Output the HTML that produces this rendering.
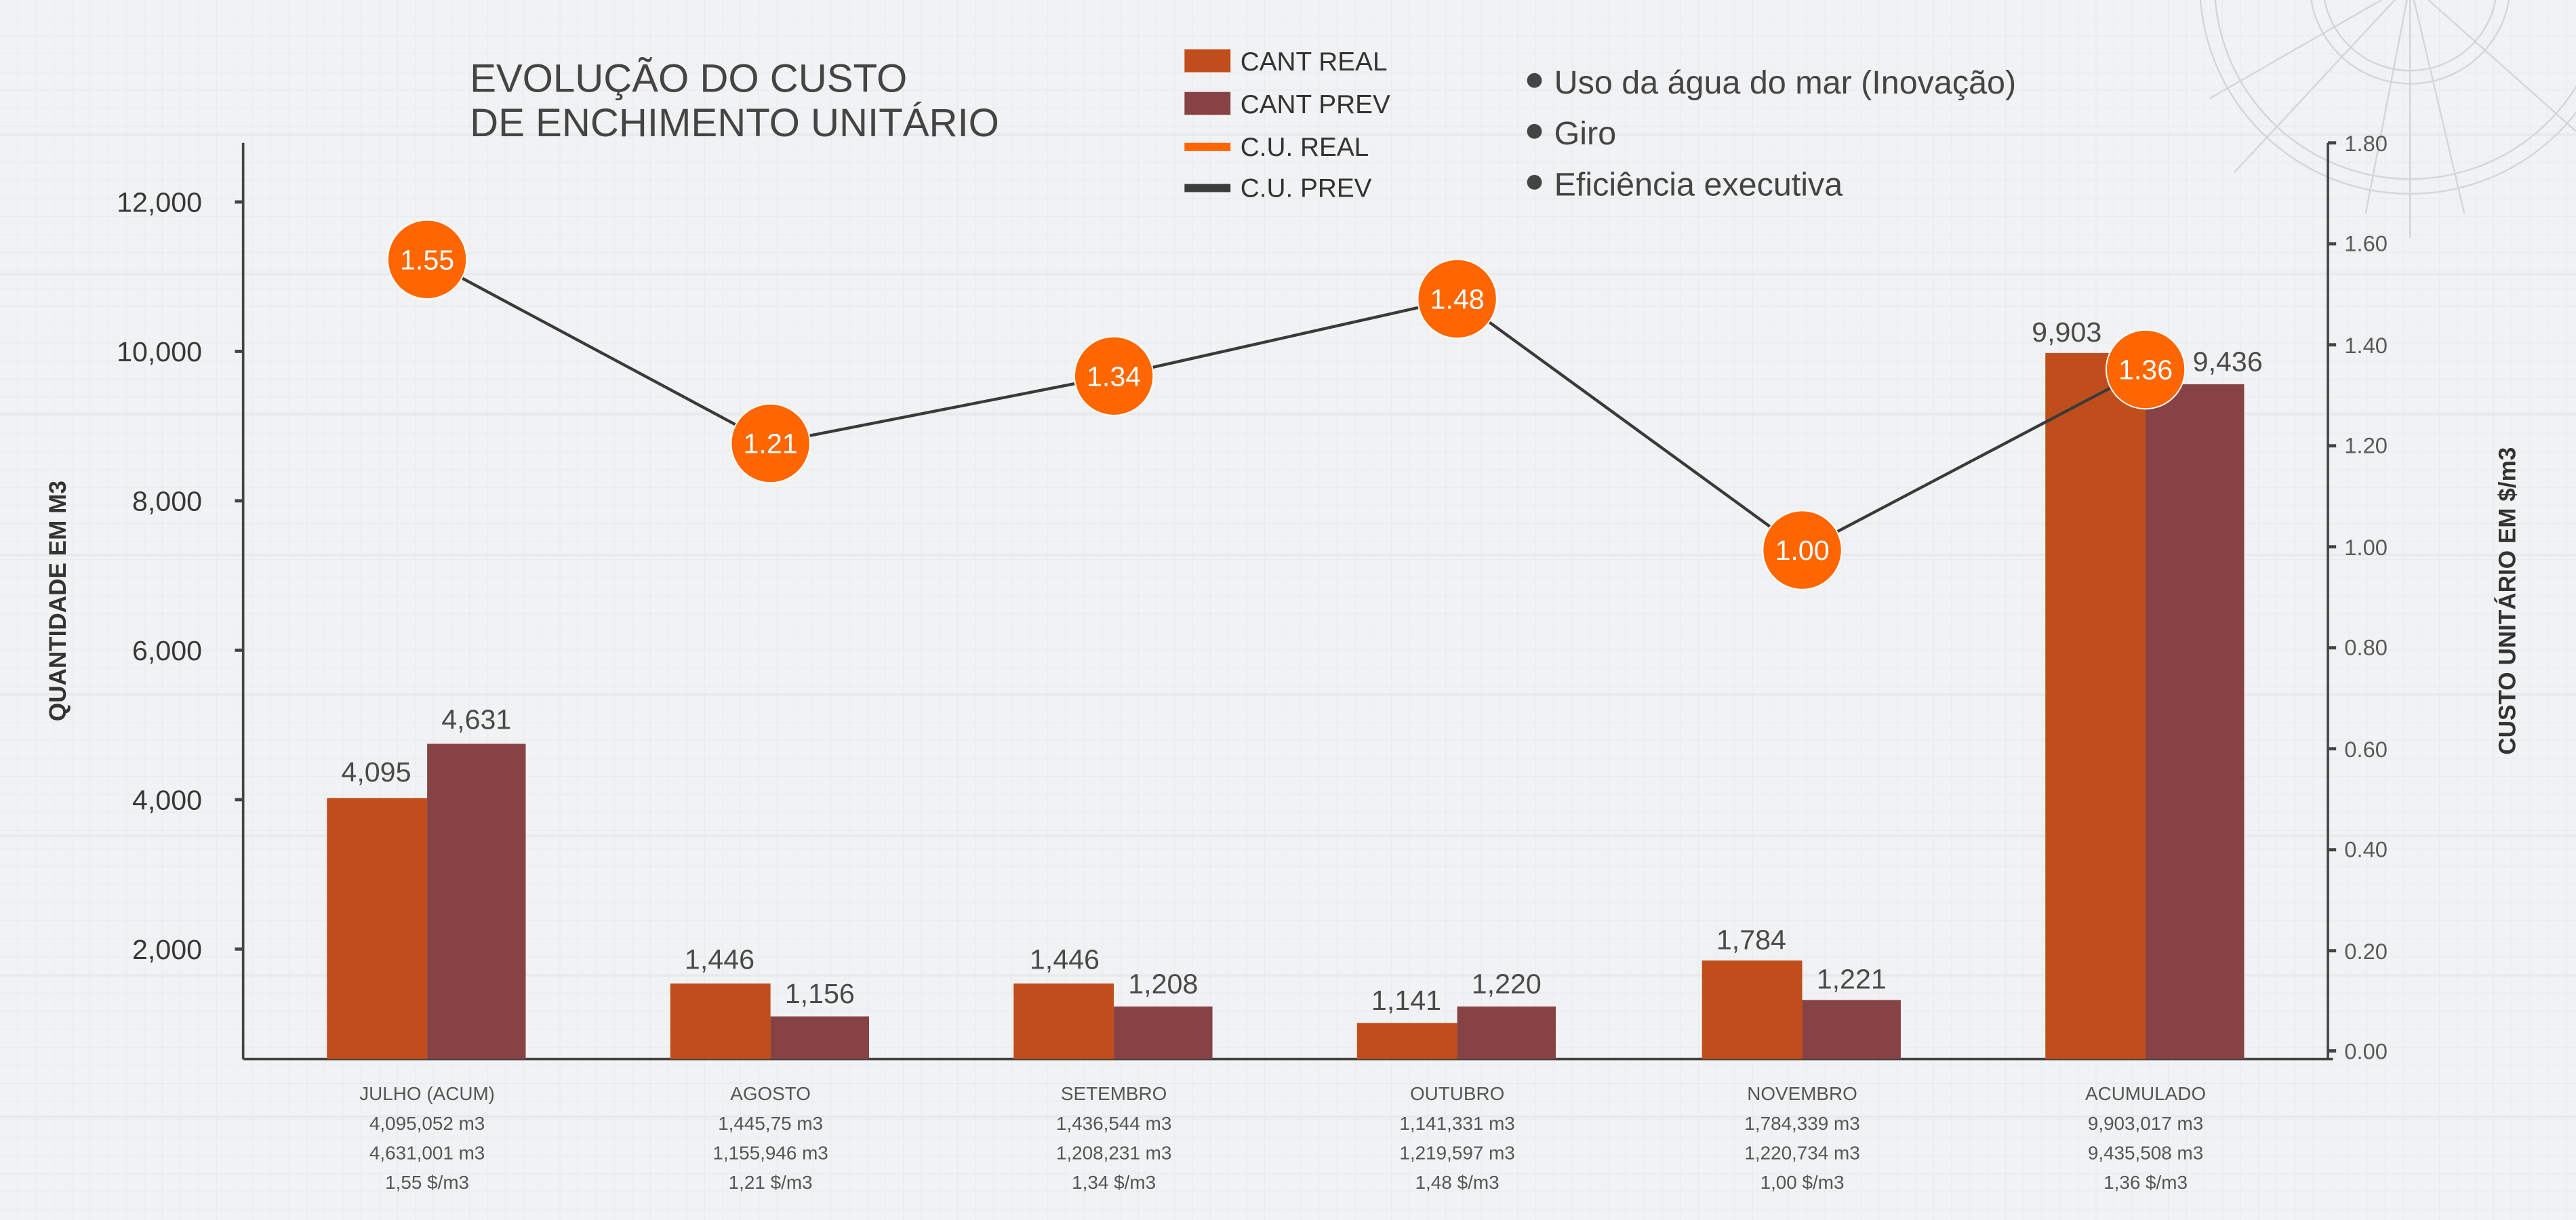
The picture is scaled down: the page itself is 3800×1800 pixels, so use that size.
<!DOCTYPE html>
<html><head><meta charset="utf-8"><style>
html,body{margin:0;padding:0;background:#f1f2f3;}
svg{display:block;}
text{font-family:"Liberation Sans",sans-serif;}
</style></head><body>
<svg width="3800" height="1800" viewBox="0 0 1568 743" preserveAspectRatio="none" xmlns="http://www.w3.org/2000/svg">
<defs>
<pattern id="g" width="11" height="11" patternUnits="userSpaceOnUse">
<path d="M11 0V11M0 11H11" stroke="#e6e8e9" stroke-width="0.6" fill="none"/>
</pattern>
</defs>
<rect width="1568" height="743" fill="#f1f2f3"/>
<rect width="1568" height="743" fill="url(#g)"/>
<g stroke="#e7e9ea" stroke-width="1.5">
<line x1="0" y1="82" x2="1568" y2="82"/><line x1="0" y1="167" x2="1568" y2="167"/>
<line x1="0" y1="252" x2="1568" y2="252"/><line x1="0" y1="338" x2="1568" y2="338"/>
<line x1="0" y1="423" x2="1568" y2="423"/><line x1="0" y1="509" x2="1568" y2="509"/>
<line x1="0" y1="594" x2="1568" y2="594"/><line x1="0" y1="680" x2="1568" y2="680"/>
</g>
<!-- decoration -->
<g stroke="#d3d6d9" stroke-width="1" fill="none">
<circle cx="1467" cy="-10" r="53"/><circle cx="1467" cy="-10" r="61"/>
<circle cx="1467" cy="-10" r="119"/><circle cx="1467" cy="-10" r="128"/>
<line x1="1467" y1="-10" x2="1345" y2="60"/><line x1="1467" y1="-10" x2="1360" y2="105"/>
<line x1="1467" y1="-10" x2="1440" y2="130"/><line x1="1467" y1="-10" x2="1500" y2="130"/>
<line x1="1467" y1="-10" x2="1568" y2="80"/><line x1="1467" y1="-10" x2="1467" y2="145"/>
</g>
<!-- title -->
<text x="286" y="56" font-size="24" fill="#444">EVOLUÇÃO DO CUSTO</text>
<text x="286" y="83" font-size="24" fill="#444">DE ENCHIMENTO UNITÁRIO</text>
<!-- legend -->
<rect x="721" y="30" width="28" height="14" fill="#c04e1c"/>
<rect x="721" y="56" width="28" height="14" fill="#864245"/>
<rect x="721" y="87" width="28" height="5" fill="#ff6600"/>
<rect x="721" y="112" width="28" height="5" fill="#3c3c3c"/>
<g font-size="16" fill="#333">
<text x="755" y="43">CANT REAL</text><text x="755" y="69">CANT PREV</text>
<text x="755" y="95">C.U. REAL</text><text x="755" y="120">C.U. PREV</text>
</g>
<g fill="#444"><circle cx="934" cy="49" r="4.5"/><circle cx="934" cy="80" r="4.5"/><circle cx="934" cy="111" r="4.5"/></g>
<g font-size="20" fill="#444">
<text x="946" y="57">Uso da água do mar (Inovação)</text>
<text x="946" y="88">Giro</text>
<text x="946" y="119">Eficiência executiva</text>
</g>
<!-- axes -->
<g stroke="#444" stroke-width="1.5" fill="none">
<line x1="148" y1="87" x2="148" y2="645"/>
<line x1="148" y1="645" x2="1420" y2="645"/>
<line x1="1417" y1="87" x2="1417" y2="645"/>
</g>
<g stroke="#444" stroke-width="2">
<line x1="143" y1="123" x2="148" y2="123"/><line x1="143" y1="214" x2="148" y2="214"/>
<line x1="143" y1="305" x2="148" y2="305"/><line x1="143" y1="396" x2="148" y2="396"/>
<line x1="143" y1="487" x2="148" y2="487"/><line x1="143" y1="578" x2="148" y2="578"/>
<line x1="1417" y1="87" x2="1422" y2="87"/><line x1="1417" y1="148.5" x2="1422" y2="148.5"/>
<line x1="1417" y1="210" x2="1422" y2="210"/><line x1="1417" y1="271.5" x2="1422" y2="271.5"/>
<line x1="1417" y1="333" x2="1422" y2="333"/><line x1="1417" y1="394.5" x2="1422" y2="394.5"/>
<line x1="1417" y1="456" x2="1422" y2="456"/><line x1="1417" y1="517.5" x2="1422" y2="517.5"/>
<line x1="1417" y1="579" x2="1422" y2="579"/><line x1="1417" y1="640" x2="1422" y2="640"/>
</g>
<g font-size="17" fill="#383838" text-anchor="end">
<text x="123" y="129">12,000</text><text x="123" y="220">10,000</text>
<text x="123" y="311">8,000</text><text x="123" y="402">6,000</text>
<text x="123" y="493">4,000</text><text x="123" y="584">2,000</text>
</g>
<g font-size="13.5" fill="#5a5a5a">
<text x="1427" y="92">1.80</text><text x="1427" y="153">1.60</text>
<text x="1427" y="215">1.40</text><text x="1427" y="276">1.20</text>
<text x="1427" y="338">1.00</text><text x="1427" y="399">0.80</text>
<text x="1427" y="461">0.60</text><text x="1427" y="522">0.40</text>
<text x="1427" y="584">0.20</text><text x="1427" y="645">0.00</text>
</g>
<text transform="translate(40,366) rotate(-90)" font-size="14.5" font-weight="bold" fill="#333" text-anchor="middle">QUANTIDADE EM M3</text>
<text transform="translate(1531,366) rotate(-90)" font-size="14.5" font-weight="bold" fill="#333" text-anchor="middle">CUSTO UNITÁRIO EM $/m3</text>
<!-- bars -->
<g fill="#c04e1c">
<rect x="199" y="486" width="61" height="159"/><rect x="408" y="599" width="61" height="46"/>
<rect x="617" y="599" width="61" height="46"/><rect x="826" y="623" width="61" height="22"/>
<rect x="1036" y="585" width="61" height="60"/><rect x="1245" y="215" width="61" height="430"/>
</g>
<g fill="#864245">
<rect x="260" y="453" width="60" height="192"/><rect x="469" y="619" width="60" height="26"/>
<rect x="678" y="613" width="60" height="32"/><rect x="887" y="613" width="60" height="32"/>
<rect x="1097" y="609" width="60" height="36"/><rect x="1306" y="234" width="60" height="411"/>
</g>
<g font-size="17" fill="#4a4a4a" text-anchor="middle">
<text x="229" y="476">4,095</text><text x="290" y="444">4,631</text>
<text x="438" y="590">1,446</text><text x="499" y="611">1,156</text>
<text x="648" y="590">1,446</text><text x="708" y="605">1,208</text>
<text x="856" y="615">1,141</text><text x="917" y="605">1,220</text>
<text x="1066" y="578">1,784</text><text x="1127" y="602">1,221</text>
<text x="1258" y="208">9,903</text><text x="1356" y="226">9,436</text>
</g>
<!-- line -->
<polyline points="260,158 469,270 678,229 887,182 1097,335 1306,225" fill="none" stroke="#3a3a3a" stroke-width="1.8"/>
<g fill="#ff6600" stroke="#ffffff" stroke-width="0.8">
<circle cx="260" cy="158" r="24"/><circle cx="469" cy="270" r="24"/>
<circle cx="678" cy="229" r="24"/><circle cx="887" cy="182" r="24"/>
<circle cx="1097" cy="335" r="24"/><circle cx="1306" cy="225" r="24"/>
</g>
<g font-size="17" fill="#ffffff" text-anchor="middle">
<text x="260" y="164">1.55</text><text x="469" y="276">1.21</text>
<text x="678" y="235">1.34</text><text x="887" y="188">1.48</text>
<text x="1097" y="341">1.00</text><text x="1306" y="231">1.36</text>
</g>
<!-- categories -->
<g font-size="11.5" fill="#555" text-anchor="middle">
<text x="260" y="670">JULHO (ACUM)</text><text x="260" y="688">4,095,052 m3</text><text x="260" y="706">4,631,001 m3</text><text x="260" y="724">1,55 $/m3</text>
<text x="469" y="670">AGOSTO</text><text x="469" y="688">1,445,75 m3</text><text x="469" y="706">1,155,946 m3</text><text x="469" y="724">1,21 $/m3</text>
<text x="678" y="670">SETEMBRO</text><text x="678" y="688">1,436,544 m3</text><text x="678" y="706">1,208,231 m3</text><text x="678" y="724">1,34 $/m3</text>
<text x="887" y="670">OUTUBRO</text><text x="887" y="688">1,141,331 m3</text><text x="887" y="706">1,219,597 m3</text><text x="887" y="724">1,48 $/m3</text>
<text x="1097" y="670">NOVEMBRO</text><text x="1097" y="688">1,784,339 m3</text><text x="1097" y="706">1,220,734 m3</text><text x="1097" y="724">1,00 $/m3</text>
<text x="1306" y="670">ACUMULADO</text><text x="1306" y="688">9,903,017 m3</text><text x="1306" y="706">9,435,508 m3</text><text x="1306" y="724">1,36 $/m3</text>
</g>
</svg>
</body></html>
